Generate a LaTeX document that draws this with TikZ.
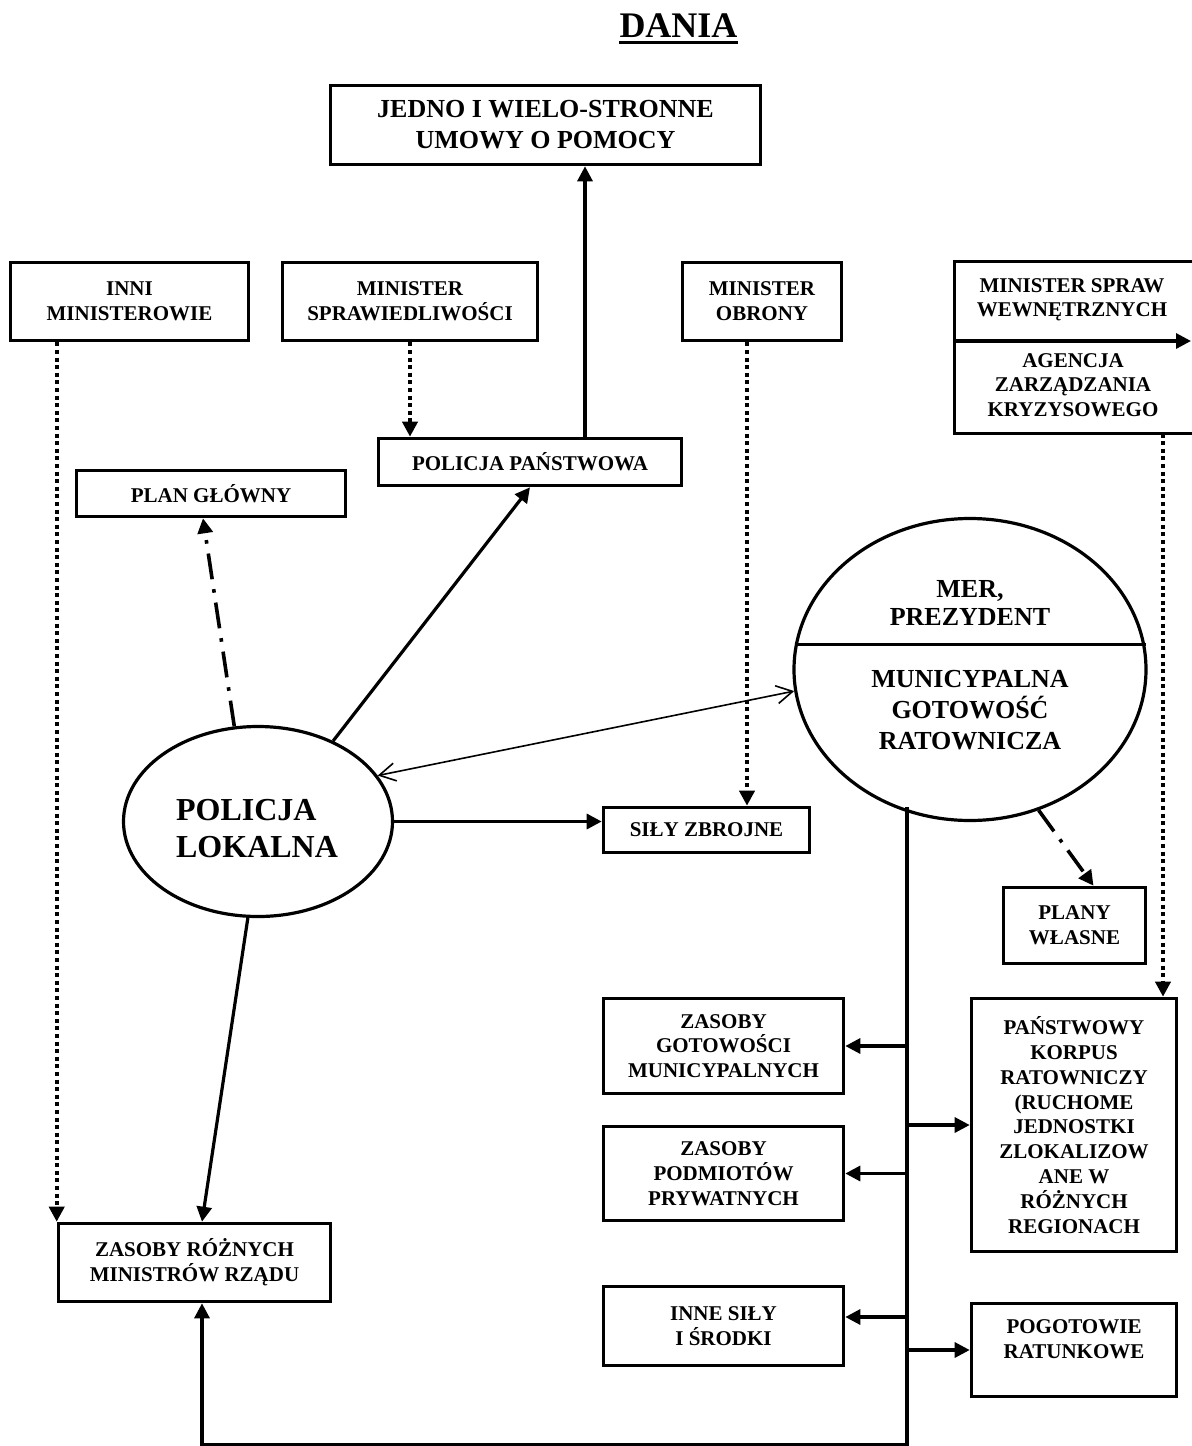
\documentclass[tikz,border=0pt]{standalone}
\usepackage{fontspec}
\setmainfont{Liberation Serif}
\usetikzlibrary{arrows.meta,shapes.geometric,calc}
\begin{document}
\begin{tikzpicture}[x=0.5pt,y=-0.5pt,
 box/.style={draw, line width=1.8pt, rectangle, align=center, inner sep=0pt, font=\fontsize{10.5}{12.4}\selectfont\bfseries},
 oval/.style={draw, ellipse, line width=1.6pt, inner sep=0pt},
 txt/.style={align=center, inner sep=0pt, font=\fontsize{10.5}{12.2}\selectfont\bfseries},
 conn/.style={line width=1.6pt},
 tip/.style={-{Triangle[length=7.5pt,width=7.5pt]}},
 dotline/.style={line width=2pt, dash pattern=on 2pt off 1.8pt},
 dashdotline/.style={line width=1.8pt, dash pattern=on 13pt off 5pt on 1.8pt off 5pt},
 openarrows/.style={line width=0.8pt, {Straight Barb[length=8pt,width=9pt]}-{Straight Barb[length=8pt,width=9pt]}},
 ]
\useasboundingbox (0,0) rectangle (1191,1446);

% title
\node[inner sep=0pt, anchor=base, font=\fontsize{18}{20}\selectfont\bfseries] (title) at (678.5,37) {DANIA};
\draw[line width=1.5pt] ([yshift=-2.6pt]title.base west) -- ([yshift=-2.6pt]title.base east);

% boxes
\node[box, font=\fontsize{13}{15.5}\selectfont\bfseries, minimum width=215pt, minimum height=39.5pt] (jedno) at (545.5,125) {JEDNO I WIELO-STRONNE\\UMOWY O POMOCY};
\node[box, minimum width=119pt, minimum height=39pt] (inni) at (129.5,301.5) {INNI\\MINISTEROWIE};
\node[box, minimum width=127.5pt, minimum height=39pt] (msp) at (410,301.5) {MINISTER\\SPRAWIEDLIWOŚCI};
\node[box, minimum width=79.5pt, minimum height=39pt] (mo) at (762,301.5) {MINISTER\\OBRONY};
\node[box, minimum width=151.5pt, minimum height=23.5pt] (pp) at (530,462) {POLICJA PAŃSTWOWA};
\node[box, minimum width=134.5pt, minimum height=23pt] (pg) at (211,493.5) {PLAN GŁÓWNY};
\node[box, minimum width=103pt, minimum height=22.5pt] (sz) at (706.5,830) {SIŁY ZBROJNE};
\node[box, minimum width=136pt, minimum height=39pt] (zr) at (194.5,1262.5) {ZASOBY RÓŻNYCH\\MINISTRÓW RZĄDU};
\node[box, minimum width=120pt, minimum height=47.5pt] (zg) at (723.5,1046) {ZASOBY\\GOTOWOŚCI\\MUNICYPALNYCH};
\node[box, minimum width=120pt, minimum height=47pt] (zp) at (723.5,1173.5) {ZASOBY\\PODMIOTÓW\\PRYWATNYCH};
\node[box, minimum width=120pt, minimum height=39.5pt] (inne) at (723.5,1326) {INNE SIŁY\\I ŚRODKI};
\node[box, minimum width=71pt, minimum height=38pt] (pw) at (1074.5,925.5) {PLANY\\WŁASNE};
\node[box, minimum width=102.5pt, minimum height=126.5pt] (pk) at (1074,1125) {PAŃSTWOWY\\KORPUS\\RATOWNICZY\\(RUCHOME\\JEDNOSTKI\\ZLOKALIZOW\\ANE W\\RÓŻNYCH\\REGIONACH};
\node[box, minimum width=102.5pt, minimum height=46.5pt] (pog) at (1074,1350) {};
\node[txt, font=\fontsize{10.5}{12.4}\selectfont\bfseries] (pogt) at (1074,1339) {POGOTOWIE\\RATUNKOWE};

% minister spraw wewnetrznych / agencja (box open to the right)
\coordinate (fTR) at (1200,261.5);
\coordinate (fBL) at (954.5,433.5);
\coordinate (fBR) at (1200,433.5);
\draw[line width=1.8pt] (fTR) -| (fBL) -- (fBR);
\node[txt] (msw) at (1072,300) {MINISTER SPRAW\\WEWNĘTRZNYCH};
\node[txt] (azk) at (1073,385) {AGENCJA\\ZARZĄDZANIA\\KRYZYSOWEGO};
\coordinate (mswL) at (954.5,341);
\coordinate (mswR) at (1191,341);
\draw[conn,tip] (mswL) -- (mswR);

% ellipses
\node[oval, minimum width=134.5pt, minimum height=95pt] (pl) at (258,821.5) {};
\node[txt, align=left, font=\fontsize{16}{18.5}\selectfont\bfseries] (plt) at (257,829) {POLICJA\\LOKALNA};
\node[oval, minimum width=176pt, minimum height=151pt] (mer) at (970,669.5) {};
\draw[line width=1.6pt] (mer.172.04) -- (mer.172.04 -| mer.7.96);
\node[txt, font=\fontsize{13}{14.2}\selectfont\bfseries] (mert) at (970,603) {MER,\\PREZYDENT};
\node[txt, font=\fontsize{13}{15.3}\selectfont\bfseries] (merb) at (970,710) {MUNICYPALNA\\GOTOWOŚĆ\\RATOWNICZA};

% connectors
\coordinate (pp1) at ([xshift=27.5pt]pp.north);
\draw[conn,tip] (pp1) -- (pp1 |- jedno.south);
\draw[dotline,tip] (msp.south) -- (msp.south |- pp.north);
\draw[dotline,tip] (inni.south -| zr.north west) -- (zr.north west);
\coordinate (mo1) at ([xshift=-7.5pt]mo.south);
\draw[dotline,tip] (mo1) -- (mo1 |- sz.north);
\coordinate (ag1) at (1163,433.5);
\draw[dotline,tip] (ag1) -- (ag1 |- pk.north);
\draw[dashdotline,tip] (pl.104) -- ([xshift=-4pt]pg.south);
\draw[conn,tip] (pl.47.8) -- (pp.south);
\draw[openarrows] (pl.21.8) -- (mer.187.4);
\draw[conn,tip] (pl.east) -- (pl.east -| sz.west);
\draw[conn,tip] (pl.264) -- ([xshift=3.75pt]zr.north);
\draw[dashdotline,tip] (mer.296) -- ([xshift=9.5pt]pw.north);

% bus from municipal preparedness
\coordinate (bus) at (907,807);
\coordinate (busb) at (907,1445);
\coordinate (zrb) at ([xshift=3.75pt]zr.south);
\coordinate (inneE) at ([yshift=4.5pt]inne.east);
\draw[conn,tip] (bus) |- (zrb |- busb) -- (zrb);
\draw[conn,tip] (bus |- zg.east) -- (zg.east);
\draw[conn,tip] (bus |- zp.east) -- (zp.east);
\draw[conn,tip] (bus |- inneE) -- (inneE);
\draw[conn,tip] (bus |- pk.west) -- (pk.west);
\draw[conn,tip] (bus |- pog.west) -- (pog.west);
\end{tikzpicture}
\end{document}
